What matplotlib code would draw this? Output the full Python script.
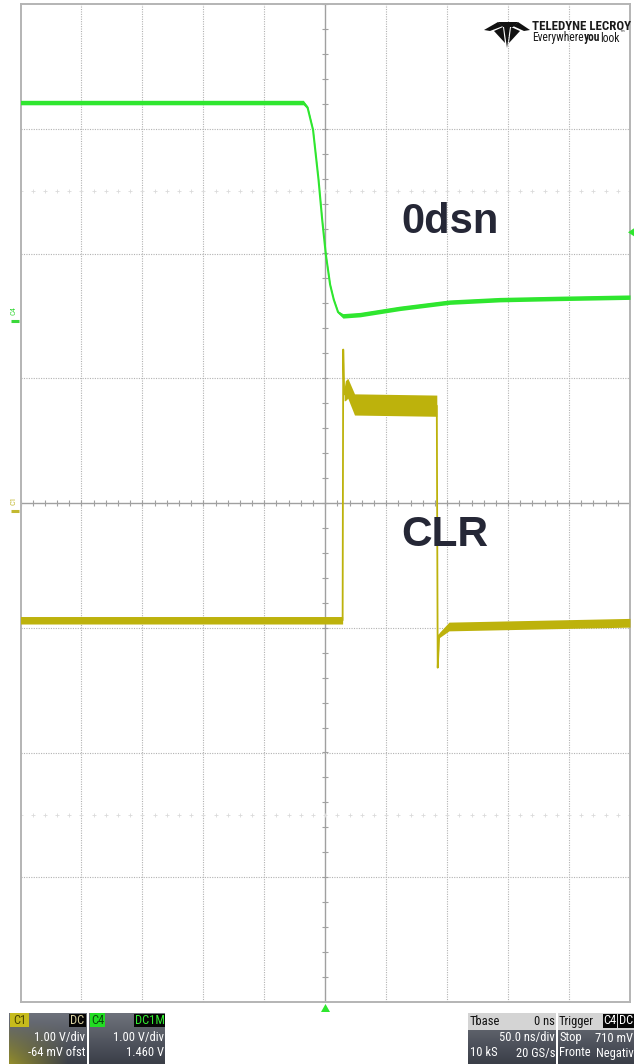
import numpy as np
import matplotlib
matplotlib.use('Agg')
import matplotlib.pyplot as plt
from matplotlib.patches import Rectangle, Polygon
from matplotlib import font_manager

# ---------------- data (divisions: time 50 ns/div, 1 V/div) ----------------
c4_time = [-5.0, -0.36, -0.29, -0.20, -0.11, -0.05, 0.01, 0.08, 0.14, 0.21, 0.29,
           0.57, 1.22, 2.04, 2.86, 3.84, 5.0]
c4_volts = [3.21, 3.21, 3.17, 2.99, 2.59, 2.27, 1.99, 1.75, 1.63, 1.53, 1.50,
            1.51, 1.56, 1.61, 1.63, 1.64, 1.65]
c4_band = [0.018, 0.018, 0.012, 0.008, 0.008, 0.008, 0.008, 0.008, 0.008, 0.01, 0.018,
           0.018, 0.018, 0.018, 0.018, 0.018, 0.018]

c1_time = [-5.0, 0.285, 0.295, 0.31, 0.33, 0.37, 0.48, 1.83, 1.845, 1.87, 2.03, 5.0]
c1_volts = [-0.94, -0.94, 1.23, 0.87, 0.90, 0.92, 0.79, 0.78, -1.32, -1.06, -0.99, -0.96]
c1_band = [0.03, 0.03, 0.0, 0.05, 0.08, 0.08, 0.085, 0.085, 0.0, 0.02, 0.035, 0.035]

c4_marker_div = 1.46      # C4 offset
c1_marker_div = -0.064    # C1 offset
trig_level_div = 1.46 + 0.71

info_c1 = ["C1", "DC", "1.00 V/div", "-64 mV ofst"]
info_c4 = ["C4", "DC1M", "1.00 V/div", "1.460 V"]
info_tb = ["Tbase", "0 ns", "50.0 ns/div", "10 kS", "20 GS/s"]
info_tr = ["Trigger", "C4", "DC", "Stop", "710 mV", "Fronte", "Negativ"]

label_top = "0dsn"
label_bot = "CLR"

# ---------------- helpers ----------------
def pick(names):
    avail = {f.name for f in font_manager.fontManager.ttflist}
    for n in names:
        if n in avail:
            return n
    return 'DejaVu Sans'

NARROW = pick(['Liberation Sans Narrow', 'Roboto Condensed', 'Liberation Sans'])
ARIAL = pick(['Liberation Sans', 'Arial', 'DejaVu Sans'])

W, H = 634, 1064
fig = plt.figure(figsize=(W / 100, H / 100), dpi=100, facecolor='white')

L, R, T, B = 20.5, 630, 4, 1002
ax = fig.add_axes([L / W, 1 - B / H, (R - L) / W, (B - T) / H])
ax.set_xlim(-5, 5)
ax.set_ylim(-4, 4)
ax.set_xticks([])
ax.set_yticks([])
ax.set_facecolor('white')
for s in ax.spines.values():
    s.set_color('#b4b4b4')
    s.set_linewidth(1.4)

GRID = '#b2b2b2'
for gx in range(-4, 5):
    if gx != 0:
        ax.axvline(gx, color=GRID, lw=0.8, ls=(0, (1.0, 1.2)), zorder=1)
for gy in range(-3, 4):
    if gy != 0:
        ax.axhline(gy, color=GRID, lw=0.8, ls=(0, (1.0, 1.2)), zorder=1)
ax.axvline(0, color='#a0a0a0', lw=1.0, zorder=1)
ax.axhline(0, color='#a0a0a0', lw=1.0, zorder=1)
mx = np.arange(-5, 5.001, 0.2)
my = np.arange(-4, 4.001, 0.2)
ax.plot(mx, np.zeros_like(mx), ls='none', marker='|', ms=5, mew=0.8, color='#a0a0a0', zorder=1)
ax.plot(np.zeros_like(my), my, ls='none', marker='_', ms=5, mew=0.8, color='#a0a0a0', zorder=1)
for gy in (2.5, -2.5):
    ax.plot(mx, np.full_like(mx, gy), ls='none', marker='+', ms=3.5, mew=0.6,
            color='#dadada', zorder=1)

GREEN = '#2fe62f'
YELLOW = '#bdb20c'
t4 = np.array(c4_time); v4 = np.array(c4_volts); b4 = np.array(c4_band)
ax.fill_between(t4, v4 - b4, v4 + b4, color=GREEN, lw=0, zorder=3)
ax.plot(t4, v4, color=GREEN, lw=1.5, zorder=3)
t1 = np.array(c1_time); v1 = np.array(c1_volts); b1 = np.array(c1_band)
ax.fill_between(t1, v1 - b1, v1 + b1, color=YELLOW, lw=0, zorder=3)
ax.plot(t1, v1, color=YELLOW, lw=1.3, zorder=3)

# ---------------- overlay in pixel coordinates ----------------
ov = fig.add_axes([0, 0, 1, 1], zorder=5)
ov.set_xlim(0, W)
ov.set_ylim(H, 0)
ov.axis('off')
ov.patch.set_alpha(0)

def ypx(div):
    return 503 - div * (B - T) / 8

# channel markers on the left
for div, col, name in [(c4_marker_div, '#3ad83a', 'C4'), (c1_marker_div, '#c2b830', 'C1')]:
    yy = ypx(div)
    ov.plot([11, 19], [yy, yy], color=col, lw=2.2, solid_capstyle='butt')
    ov.text(14, yy - 6, name, color=col, fontsize=6, rotation=90, ha='center', va='bottom',
            family=NARROW)

# trigger markers
yt = ypx(trig_level_div)
ov.add_patch(Polygon([[628, yt], [634, yt - 4], [634, yt + 4]], closed=True, color=GREEN, lw=0))
ov.add_patch(Polygon([[325.5, 1004], [321, 1012], [330, 1012]], closed=True, color=GREEN, lw=0))

# big labels
ov.text(401, 222, label_top, fontsize=30, fontweight='bold', color='#252736',
        family=ARIAL, ha='left', va='center')
ov.text(401, 535, label_bot, fontsize=30.5, fontweight='bold', color='#252736',
        family=ARIAL, ha='left', va='center')

# logo
ov.text(532, 27, "TELEDYNE LECROY", fontsize=9.3, fontweight='bold', color='#1a1a1a',
        family=NARROW, ha='left', va='center')
renderer = fig.canvas.get_renderer()
xcur = 532
for part, wt in [("Everywhere", 'normal'), ("you", 'bold'), ("look", 'normal')]:
    t = ov.text(xcur, 38, part, fontsize=8.3, color='#1a1a1a', fontweight=wt,
                family=NARROW, ha='left', va='center')
    bb = t.get_window_extent(renderer=renderer)
    xcur += bb.width * W / fig.bbox.width
ov.text(xcur, 34, "\u2122", fontsize=4, color='#1a1a1a', family='DejaVu Sans',
        ha='left', va='center')
logo_polys = [
    [[484, 30], [498, 22], [503, 26], [490, 31]],
    [[513, 26], [518, 22], [530, 30], [524, 31]],
    [[498, 22], [518, 22], [513, 27], [503, 27]],
    [[494, 31], [503, 27], [505, 43]],
    [[511, 27], [520, 31], [509, 43]],
    [[504, 27], [510, 27], [507, 48]],
]
for p in logo_polys:
    ov.add_patch(Polygon(p, closed=True, color='#111111', lw=0))

# info boxes
def grad_box(x0, x1, y0, y1, top='#6d717b', bot='#3b3f48', tint=None):
    n = 40
    f = np.linspace(0, 1, n)[:, None, None]
    c0 = np.array(matplotlib.colors.to_rgb(top))
    c1 = np.array(matplotlib.colors.to_rgb(bot))
    img = (1 - f) * c0 + f * c1
    img = np.repeat(img, 30, axis=1)
    if tint is not None:
        tc = np.array(matplotlib.colors.to_rgb(tint))
        xs = np.linspace(0, 1, 30)[None, :, None]
        w = np.clip(f * 1.2 - 0.2, 0, 1) * np.clip(1 - xs * 1.3, 0, 1) * 0.7
        img = (1 - w) * img + w * tc
    ov.imshow(img, extent=(x0, x1, y1, y0), origin='upper', aspect='auto',
              interpolation='bilinear', zorder=1)

TXT = dict(family=NARROW, fontsize=9, va='center')

# C1 box
grad_box(9, 87, 1013, 1064, tint='#b8ae20')
ov.add_patch(Rectangle((10, 1013), 19, 14, color='#c6bb1c', lw=0, zorder=2))
ov.text(19.5, 1020.5, info_c1[0], color='#4a4400', ha='center', zorder=3, **TXT)
ov.add_patch(Rectangle((69, 1014), 17, 13, color='#050505', lw=0, zorder=2))
ov.text(77.5, 1020.5, info_c1[1], color='#d8d0a0', ha='center', zorder=3, **TXT)
ov.text(85, 1038, info_c1[2], color='white', ha='right', zorder=3, **TXT)
ov.text(85, 1053, info_c1[3], color='white', ha='right', zorder=3, **TXT)

# C4 box
grad_box(89, 165, 1013, 1064)
ov.add_patch(Rectangle((90, 1013), 15, 14, color='#22dd22', lw=0, zorder=2))
ov.text(97.5, 1020.5, info_c4[0], color='#0a4a0a', ha='center', zorder=3, **TXT)
ov.add_patch(Rectangle((134, 1014), 31, 13, color='#050505', lw=0, zorder=2))
ov.text(149.5, 1020.5, info_c4[1], color='#33ee33', ha='center', zorder=3, **TXT)
ov.text(164, 1038, info_c4[2], color='white', ha='right', zorder=3, **TXT)
ov.text(164, 1053, info_c4[3], color='white', ha='right', zorder=3, **TXT)

# Tbase box
grad_box(468, 556, 1013, 1064)
ov.add_patch(Rectangle((468, 1013), 88, 17, color='#d4d4d4', lw=0, zorder=2))
ov.text(470, 1021.5, info_tb[0], color='#111111', ha='left', zorder=3, **TXT)
ov.text(555, 1021.5, info_tb[1], color='#111111', ha='right', zorder=3, **TXT)
ov.text(555, 1038, info_tb[2], color='white', ha='right', zorder=3, **TXT)
ov.text(470, 1053, info_tb[3], color='white', ha='left', zorder=3, **TXT)
ov.text(555, 1053, info_tb[4], color='white', ha='right', zorder=3, **TXT)

# Trigger box
grad_box(558, 634, 1013, 1064)
ov.add_patch(Rectangle((558, 1013), 76, 17, color='#d4d4d4', lw=0, zorder=2))
ov.text(559, 1021.5, info_tr[0], color='#111111', ha='left', zorder=3, **TXT)
ov.add_patch(Rectangle((603, 1014), 14, 14, color='#050505', lw=0, zorder=2))
ov.text(610, 1021, info_tr[1], color='white', ha='center', zorder=3, **TXT)
ov.add_patch(Rectangle((618, 1014), 16, 14, color='#050505', lw=0, zorder=2))
ov.text(626, 1021, info_tr[2], color='white', ha='center', zorder=3, **TXT)
ov.text(559, 1038, info_tr[3], color='white', ha='left', zorder=3, **TXT)
ov.text(633, 1038, info_tr[4], color='white', ha='right', zorder=3, **TXT)
ov.text(559, 1053, info_tr[5], color='white', ha='left', zorder=3, **TXT)
ov.text(634, 1053, info_tr[6], color='white', ha='right', zorder=3, **TXT)

fig.savefig('out.png', dpi=100, facecolor='white')
